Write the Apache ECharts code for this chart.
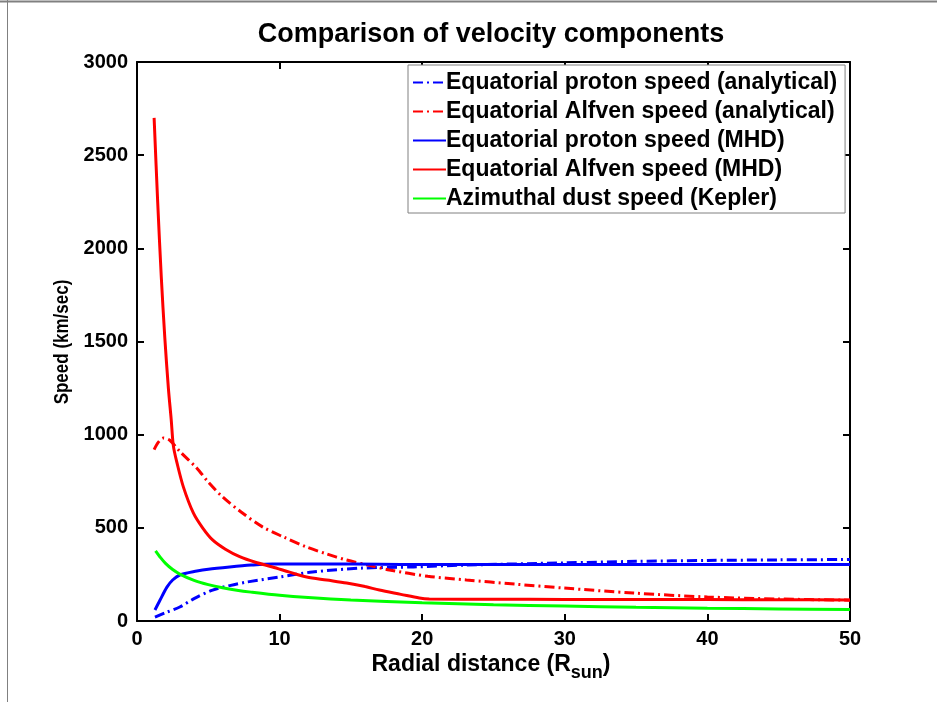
<!DOCTYPE html>
<html>
<head>
<meta charset="utf-8">
<script src="https://cdn.jsdelivr.net/npm/echarts@6/dist/echarts.min.js"></script>
<style>
html,body{margin:0;padding:0;background:#fff;}
#c{width:937px;height:702px;}
</style>
</head>
<body>
<div id="c"></div>
<script>
// ---- data ----
var titleText = 'Comparison of velocity components';
var seriesNames = [
  'Equatorial proton speed (analytical)',
  'Equatorial Alfven speed (analytical)',
  'Equatorial proton speed (MHD)',
  'Equatorial Alfven speed (MHD)',
  'Azimuthal dust speed (Kepler)'
];
var xTicks = [0, 10, 20, 30, 40, 50];
var yTicks = [0, 500, 1000, 1500, 2000, 2500, 3000];

var protonAnaX = [1.26, 2, 3, 4, 5.3, 6.5, 7.7, 10, 12.3, 15.8, 19.4, 23, 30, 35, 40, 45, 50];
var protonAnaY = [21, 45, 75, 120, 166, 190, 209, 236, 263, 284, 290, 300, 312, 320, 325, 328, 330];

var alfvenAnaX = [1.2, 1.5, 1.85, 2.3, 3.0, 4.2, 5, 6.0, 7.3, 8.8, 10.3, 11.9, 13.3, 14.7, 16.2, 17.7, 20.4, 23.1, 26.5, 29.9, 34.8, 40, 45, 50];
var alfvenAnaY = [920, 960, 982, 970, 910, 820, 745, 666, 585, 505, 450, 397, 360, 327, 300, 274, 240, 220, 198, 177, 150, 129, 118, 112];

var protonMhdX = [1.26, 1.6, 2.1, 2.5, 3.0, 4.2, 5, 6.5, 8, 9.5, 13.5, 17, 20, 30, 40, 50];
var protonMhdY = [59, 110, 182, 220, 247, 268, 278, 290, 300, 306, 306, 305, 303, 303, 303, 303];

var alfvenMhdX = [1.2, 1.45, 1.7, 1.95, 2.2, 2.4, 2.55, 2.8, 3.25, 3.95, 4.6, 5.3, 6.2, 7.2, 8.3, 9.5, 10.7, 11.9, 13.3, 14.7, 16, 17, 18.5, 19.8, 20.5, 25, 30, 35, 40, 45, 50];
var alfvenMhdY = [2700, 2250, 1850, 1520, 1250, 1080, 940, 850, 720, 580, 500, 435, 385, 345, 315, 290, 262, 236, 220, 204, 185, 166, 143, 123, 118, 117, 116, 116, 115, 114, 113];

var keplerX = [1.3, 1.6, 2, 2.5, 3, 4, 5, 6, 7, 8, 10, 12, 15, 20, 25, 30, 35, 40, 45, 50];
var keplerY = [376, 345, 309, 276, 252, 218, 195, 178, 165, 155, 138, 126, 113, 98, 87, 80, 74, 69, 65, 62];

function zip(xs, ys) { return xs.map(function (x, i) { return [x, ys[i]]; }); }

var FONT = 'Liberation Sans, Arial, sans-serif';
var dashDot = [10, 4, 2, 4];

var chart = echarts.init(document.getElementById('c'), null, {renderer: 'canvas'});

function mkSeries(name, xs, ys, color, dashed) {
  return {
    name: name, type: 'line', data: zip(xs, ys), smooth: 0.3,
    symbol: 'none', showSymbol: false, animation: false,
    xAxisIndex: 0, yAxisIndex: 0,
    lineStyle: {color: color, width: 3, type: dashed ? dashDot : 'solid'},
    itemStyle: {color: color}
  };
}

var axisLine = {show: true, onZero: false, lineStyle: {color: '#000', width: 2}};
var tickIn = {show: true, inside: true, length: 7, lineStyle: {color: '#000', width: 2}};
var labelStyle = {color: '#000', fontFamily: FONT, fontWeight: 'bold', fontSize: 20,
                  formatter: function (v) { return String(v); }};

chart.setOption({
  backgroundColor: '#fff',
  animation: false,
  grid: {left: 137, right: 87, top: 62, bottom: 81, containLabel: false},
  legend: {
    orient: 'vertical', left: 408, top: 65,
    backgroundColor: '#fff', borderColor: '#808080', borderWidth: 1,
    padding: [4, 8, 1, 4], itemGap: 2, itemWidth: 33, itemHeight: 14,
    itemStyle: {opacity: 0},
    data: seriesNames,
    textStyle: {fontFamily: FONT, fontWeight: 'bold', fontSize: 23, lineHeight: 27, color: '#000', padding: [0, 0, 0, -5]}
  },
  xAxis: [
    {type: 'value', min: 0, max: 50, interval: 10, position: 'bottom',
     axisLine: axisLine, axisTick: tickIn, splitLine: {show: false},
     axisLabel: Object.assign({margin: 8}, labelStyle)},
    {type: 'value', min: 0, max: 50, interval: 10, position: 'top',
     axisLine: axisLine, axisTick: tickIn, splitLine: {show: false},
     axisLabel: {show: false}}
  ],
  yAxis: [
    {type: 'value', min: 0, max: 3000, interval: 500, position: 'left',
     axisLine: axisLine, axisTick: tickIn, splitLine: {show: false},
     axisLabel: Object.assign({margin: 9}, labelStyle)},
    {type: 'value', min: 0, max: 3000, interval: 500, position: 'right',
     axisLine: axisLine, axisTick: tickIn, splitLine: {show: false},
     axisLabel: {show: false}}
  ],
  graphic: [
    {type: 'line', shape: {x1: 0, y1: 1.5, x2: 937, y2: 1.5}, style: {stroke: '#808080', lineWidth: 2}},
    {type: 'line', shape: {x1: 7.5, y1: 0, x2: 7.5, y2: 702}, style: {stroke: '#808080', lineWidth: 1}},
    {type: 'text', x: 491, y: 21,
     style: {
       text: titleText, textAlign: 'center', textVerticalAlign: 'top',
       fontFamily: FONT, fontWeight: 'bold', fontSize: 27, fill: '#000'
     }},
    {type: 'text', x: 491, y: 648,
     style: {
       textAlign: 'center',
       text: '{a|Radial distance (R}{s|sun}{a|)}',
       rich: {
         a: {fontFamily: FONT, fontWeight: 'bold', fontSize: 23, fill: '#000'},
         s: {fontFamily: FONT, fontWeight: 'bold', fontSize: 18, fill: '#000', padding: [16, 0, 0, 0]}
       }
     }},
    {type: 'text', rotation: Math.PI / 2,
     x: 62, y: 342, scaleY: 1.2,
     style: {
       text: 'Speed (km/sec)', textAlign: 'center', textVerticalAlign: 'middle',
       fontFamily: FONT, fontWeight: 'bold', fontSize: 17, fill: '#000'
     }}
  ],
  series: [
    mkSeries(seriesNames[0], protonAnaX, protonAnaY, '#0000ff', true),
    mkSeries(seriesNames[1], alfvenAnaX, alfvenAnaY, '#ff0000', true),
    mkSeries(seriesNames[2], protonMhdX, protonMhdY, '#0000ff', false),
    mkSeries(seriesNames[3], alfvenMhdX, alfvenMhdY, '#ff0000', false),
    mkSeries(seriesNames[4], keplerX, keplerY, '#00ff00', false)
  ]
});
</script>
</body>
</html>
